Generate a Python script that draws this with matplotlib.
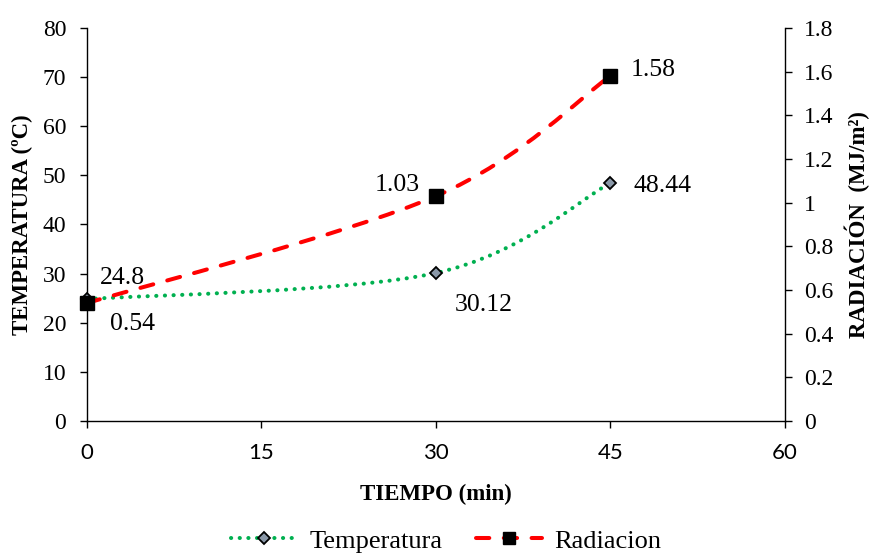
import numpy as np
import matplotlib as mpl
import matplotlib.pyplot as plt
from matplotlib.path import Path
from matplotlib.patches import PathPatch
from matplotlib.lines import Line2D

# data
# ----
tiempo = [0, 30, 45]
temperatura = [24.8, 30.12, 48.44]
radiacion = [0.54, 1.03, 1.58]
temp_labels = ["24.8", "30.12", "48.44"]
rad_labels = ["0.54", "1.03", "1.58"]
x_ticks = [0, 15, 30, 45, 60]
rad_ticklabels = ["0", "0.2", "0.4", "0.6", "0.8", "1", "1.2", "1.4", "1.6", "1.8"]

green = "#00B050"
red = "#FF0000"
diamond_face = "#8A98A8"

green_ls = (0, (0.05, 2.1))
red_ls = (0, (3.3, 3.6))

mpl.rcParams.update({
    "font.family": ["Liberation Serif", "DejaVu Serif"],
    "font.size": 17,
    "axes.linewidth": 1.0,
})


def smooth_path(xs, ys):
    # excel-style smoothed line (catmull-rom as bezier segments)
    pts = np.column_stack([xs, ys]).astype(float)
    verts = [pts[0]]
    codes = [Path.MOVETO]
    n = len(pts)
    for i in range(n - 1):
        p0 = pts[i - 1] if i > 0 else pts[i]
        p1 = pts[i]
        p2 = pts[i + 1]
        p3 = pts[i + 2] if i + 2 < n else pts[i + 1]
        c1 = p1 + (p2 - p0) / 6.0
        c2 = p2 - (p3 - p1) / 6.0
        verts += [c1, c2, p2]
        codes += [Path.CURVE4] * 3
    return Path(verts, codes)


fig = plt.figure(figsize=(8.7, 5.53), dpi=100)
fig.patch.set_facecolor('white')
ax = fig.add_axes([0.1, 0.2387, 0.802, 0.7107])
ax2 = ax.twinx()

# temperature (left axis)
ax.add_patch(PathPatch(smooth_path(tiempo, temperatura), facecolor='none',
                       edgecolor=green, linewidth=2.9, linestyle=green_ls,
                       capstyle='round', zorder=3))
ax.plot(tiempo, temperatura, linestyle='none', marker='D', markersize=6.5,
        markerfacecolor=diamond_face, markeredgecolor='black', markeredgewidth=1.3,
        zorder=5, clip_on=False)

# radiation (right axis)
ax2.add_patch(PathPatch(smooth_path(tiempo, radiacion), facecolor='none',
                        edgecolor=red, linewidth=2.9, linestyle=red_ls,
                        capstyle='round', zorder=3))
ax2.plot(tiempo, radiacion, linestyle='none', marker='s', markersize=10,
         markerfacecolor='black', markeredgecolor='black', zorder=5, clip_on=False)

# data labels
temp_off = [(9.5, 17), (13.5, -21), (16.5, 0)]
for x, y, s, off in zip(tiempo, temperatura, temp_labels, temp_off):
    ax.annotate(s, (x, y), xytext=off, textcoords='offset points', ha='left',
                va='center_baseline', fontsize=18.5)
rad_off = [(16.5, -13), (-11.5, 10), (14.5, 6)]
rad_ha = ['left', 'right', 'left']
for x, y, s, off, ha in zip(tiempo, radiacion, rad_labels, rad_off, rad_ha):
    ax2.annotate(s, (x, y), xytext=off, textcoords='offset points', ha=ha,
                 va='center_baseline', fontsize=18.5)

# axes
ax.set_xlim(0, 60)
ax.set_ylim(0, 80)
ax2.set_ylim(0, 1.8)
ax.set_xticks(x_ticks)
ax.set_yticks(np.arange(0, 81, 10))
ax2.set_yticks(np.arange(0, 1.81, 0.2))
ax2.set_yticklabels(rad_ticklabels)

for a in (ax, ax2):
    a.spines['top'].set_visible(False)
    a.tick_params(direction='out', length=5, width=1, labelsize=17, pad=10)
ax.spines['right'].set_visible(False)
ax2.spines['left'].set_visible(False)
ax2.spines['bottom'].set_visible(False)
ax2.tick_params(axis='y', pad=9)
ax.tick_params(axis='x', pad=11, labelsize=16)
for lab in ax.get_xticklabels():
    lab.set_fontfamily('Lato')

ax.set_xlabel("TIEMPO (min)", fontweight='bold', fontsize=16.5, labelpad=15)
ax.set_ylabel("TEMPERATURA (ºC)", fontweight='bold', fontsize=16.5, labelpad=7)
ax2.set_ylabel("RADIACIÓN  (MJ/m²)", fontweight='bold', fontsize=16.5, labelpad=8)

# legend
h1 = Line2D([], [], color=green, linewidth=2.9, linestyle=green_ls,
            dash_capstyle='round', marker='D', markersize=6.5,
            markerfacecolor=diamond_face, markeredgecolor='black', markeredgewidth=1.3)
h2 = Line2D([], [], color=red, linewidth=2.9, linestyle=red_ls,
            dash_capstyle='round', marker='s', markersize=8,
            markerfacecolor='black', markeredgecolor='black')
leg = fig.legend([h1, h2], ["Temperatura", "Radiacion"], loc='center',
                 bbox_to_anchor=(0.513, 0.022), ncol=2, frameon=False, fontsize=19,
                 handlelength=2.5, columnspacing=1.3, handletextpad=0.45)

fig.savefig("out.png", dpi=100)
